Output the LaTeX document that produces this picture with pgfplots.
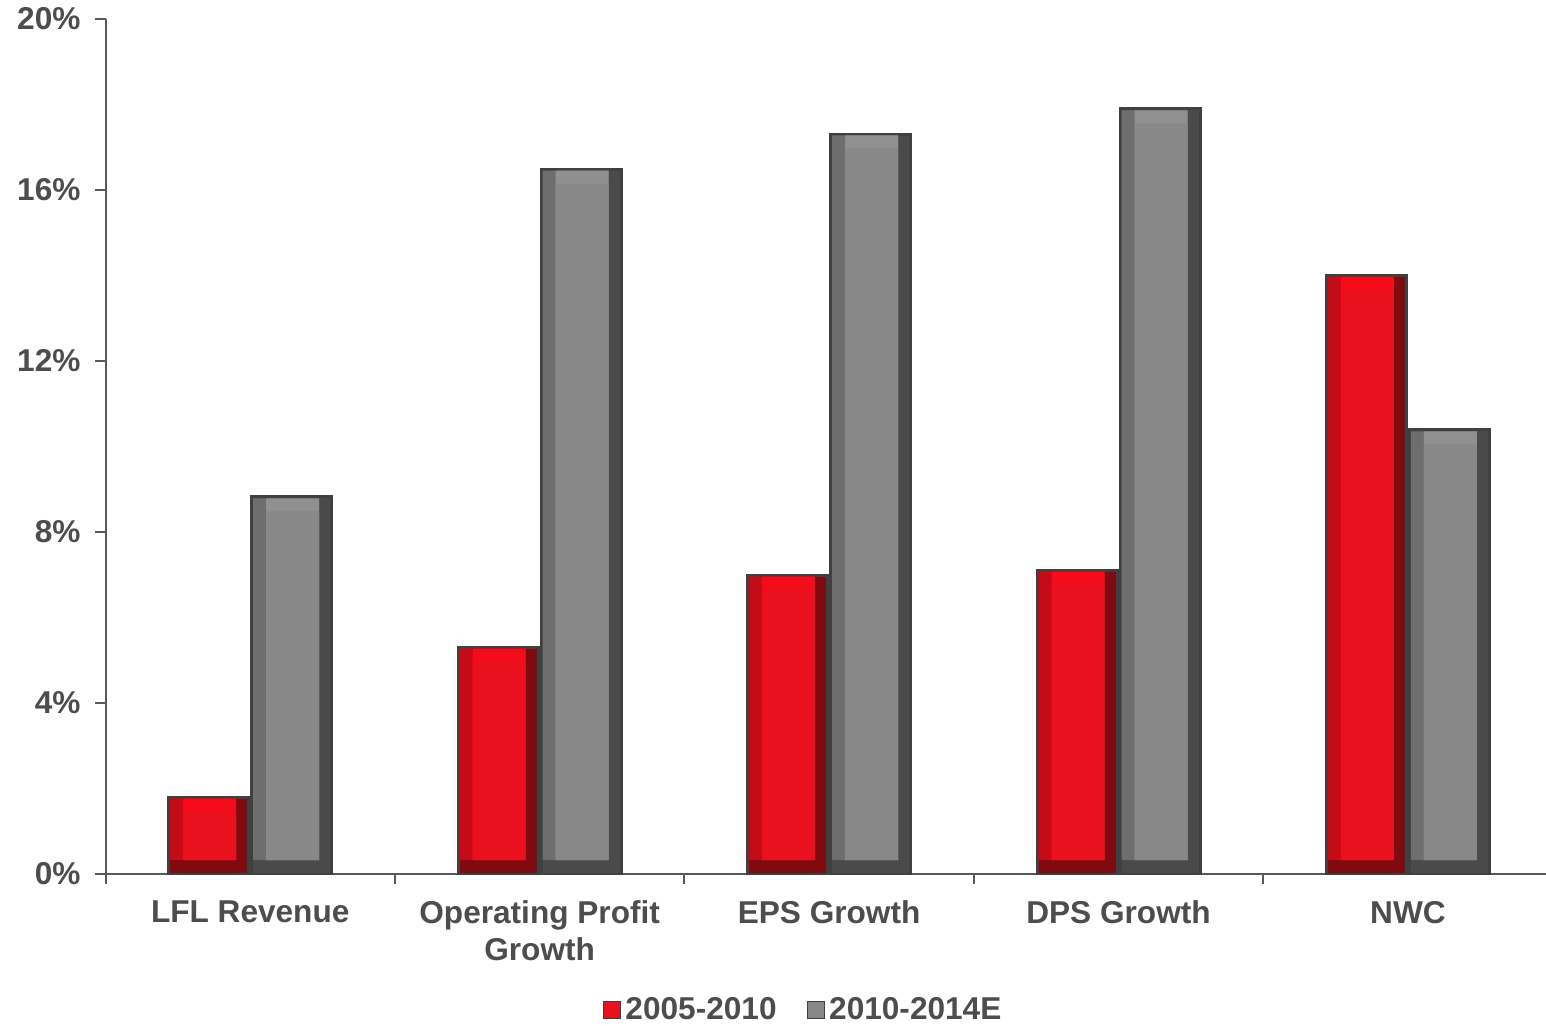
\documentclass[border=0pt]{standalone}
\usepackage{pgfplots}
\pgfplotsset{compat=1.18}
\usepackage{pgfplotstable}
\usepackage{fontspec}
\setmainfont{Liberation Sans}
\definecolor{txt}{HTML}{4D4D4D}
\definecolor{axcol}{HTML}{595959}
\definecolor{bord}{HTML}{404040}
\definecolor{rFace}{HTML}{EA101E}
\definecolor{rTop}{HTML}{F40C1A}
\definecolor{rLeft}{HTML}{C40C18}
\definecolor{rRight}{HTML}{800A10}
\definecolor{gFace}{HTML}{888888}
\definecolor{gTop}{HTML}{909090}
\definecolor{gLeft}{HTML}{6E6E6E}
\definecolor{gRight}{HTML}{4A4A4A}
\pgfplotstableread{
x a b
0 1.80 8.82
1 5.31 16.49
2 6.99 17.31
3 7.11 17.90
4 14.00 10.39
}\data
\tikzset{lab/.style={font=\fontsize{15.8}{18.5}\selectfont\bfseries, text=txt}}
\begin{document}
\begin{tikzpicture}
\pgfplotsset{
  common/.style={scale only axis, width=720.25pt, xmin=-0.5, xmax=4.477, ymax=20},
}
\begin{axis}[common, height=427.5pt, ymin=0,
  axis x line*=bottom, axis y line*=left,
  axis line style={draw=axcol, line width=1pt},
  ytick={0,4,8,12,16,20},
  yticklabel={\pgfmathprintnumber{\tick}\%},
  /pgf/number format/assume math mode=true,
  yticklabel style={lab, xshift=-4pt},
  tick align=outside, major tick length=5pt,
  tick style={draw=axcol, line width=1pt},
  xtick={-0.5,0.5,1.5,2.5,3.5},
  xticklabels={},
  extra x ticks={0,1,2,3,4},
  extra x tick labels={LFL Revenue,{Operating Profit\\Growth},EPS Growth,DPS Growth,NWC},
  extra x tick style={major tick length=0pt, xticklabel style={lab, align=center, anchor=north, yshift=-10pt}},
  ybar, bar width=40pt,
  legend columns=2,
  legend style={draw=none, fill=none, at={(0.485,-0.159)}, anchor=center,
    font=\fontsize{15.8}{18.5}\selectfont\bfseries, text=txt,
    /tikz/every even column/.append style={column sep=13pt}},
]
\addplot[fill=rRight, draw=bord, line width=1.5pt, bar shift=-20.75pt,
  legend image code/.code={\draw[draw=bord, line width=0.8pt, fill=rFace] (0pt,-4.25pt) rectangle (8.5pt,4.25pt);}]
  table[x=x, y=a]{\data};
\addlegendentry{2005-2010}
\addplot[fill=gRight, draw=bord, line width=1.5pt, bar shift=20.75pt,
  legend image code/.code={\draw[draw=bord, line width=0.8pt, fill=gFace] (0pt,-4.25pt) rectangle (8.5pt,4.25pt);}]
  table[x=x, y=b]{\data};
\addlegendentry{2010-2014E}
\end{axis}
\begin{axis}[common, height=420.5pt, at={(0,7pt)}, ymin=0.3275, hide axis, ybar, clip=true]
% red bevel layers
\addplot[fill=rLeft, draw=none, bar width=33pt, bar shift=-23.5pt] table[x=x, y expr=\thisrow{a}-0.035]{\data};
\addplot[fill=rTop, draw=none, bar width=26.5pt, bar shift=-20.25pt] table[x=x, y expr=\thisrow{a}-0.035]{\data};
\addplot[fill=rFace, draw=none, bar width=26.5pt, bar shift=-20.25pt] table[x=x, y expr=\thisrow{a}-0.339]{\data};
% gray bevel layers
\addplot[fill=gLeft, draw=none, bar width=33pt, bar shift=18pt] table[x=x, y expr=\thisrow{b}-0.035]{\data};
\addplot[fill=gTop, draw=none, bar width=26.5pt, bar shift=21.25pt] table[x=x, y expr=\thisrow{b}-0.035]{\data};
\addplot[fill=gFace, draw=none, bar width=26.5pt, bar shift=21.25pt] table[x=x, y expr=\thisrow{b}-0.339]{\data};
\end{axis}
\pgfresetboundingbox
\useasboundingbox (-52.75pt,-75.5pt) rectangle (720.25pt,437pt);
\end{tikzpicture}
\end{document}
